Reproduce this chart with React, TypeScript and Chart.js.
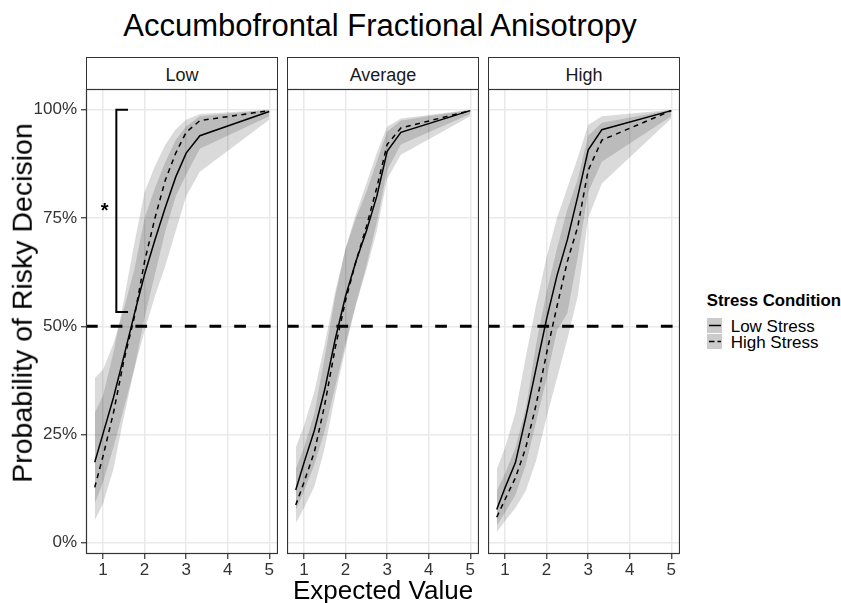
import React, { useEffect, useRef } from "react";
import { Chart, registerables } from "chart.js";
Chart.register(...registerables);

// ---------------- data ----------------
const titleText = "Accumbofrontal Fractional Anisotropy";
const panelNames = ["Low", "Average", "High"];
const seriesNames = ["Low Stress", "High Stress"];
const legendTitle = "Stress Condition";
const xAxisTitle = "Expected Value";
const yAxisTitle = "Probability of Risky Decision";

const evPoints = [0.8, 1.0, 1.25, 1.5, 1.75, 2.0, 2.25, 2.5, 2.75, 3.0, 3.33, 5.0];

// Panel "Low"
const lowFA_lowStress = [0.186, 0.252, 0.335, 0.43, 0.527, 0.62, 0.7, 0.775, 0.845, 0.9, 0.94, 0.996];
const lowFA_lowStress_lo = [0.09, 0.14, 0.22, 0.31, 0.4, 0.49, 0.57, 0.64, 0.72, 0.8, 0.857, 0.977];
const lowFA_lowStress_hi = [0.38, 0.4, 0.46, 0.54, 0.63, 0.75, 0.82, 0.88, 0.93, 0.962, 0.985, 1.0];
const lowFA_highStress = [0.128, 0.2, 0.3, 0.42, 0.52, 0.65, 0.75, 0.838, 0.9, 0.948, 0.975, 0.998];
const lowFA_highStress_lo = [0.052, 0.09, 0.17, 0.29, 0.4, 0.52, 0.62, 0.72, 0.8, 0.85, 0.91, 0.985];
const lowFA_highStress_hi = [0.3, 0.34, 0.44, 0.56, 0.69, 0.81, 0.87, 0.92, 0.955, 0.977, 0.99, 1.0];

// Panel "Average"
const avgFA_lowStress = [0.122, 0.185, 0.26, 0.355, 0.47, 0.57, 0.65, 0.72, 0.8, 0.904, 0.948, 0.998];
const avgFA_lowStress_lo = [0.075, 0.12, 0.18, 0.26, 0.36, 0.46, 0.55, 0.63, 0.72, 0.84, 0.896, 0.985];
const avgFA_lowStress_hi = [0.22, 0.27, 0.35, 0.46, 0.58, 0.68, 0.75, 0.81, 0.88, 0.95, 0.975, 1.0];
const avgFA_highStress = [0.087, 0.14, 0.21, 0.32, 0.45, 0.56, 0.65, 0.73, 0.82, 0.92, 0.958, 0.998];
const avgFA_highStress_lo = [0.045, 0.08, 0.13, 0.22, 0.34, 0.45, 0.55, 0.64, 0.74, 0.86, 0.92, 0.99];
const avgFA_highStress_hi = [0.17, 0.22, 0.3, 0.43, 0.57, 0.68, 0.76, 0.83, 0.9, 0.961, 0.98, 1.0];

// Panel "High"
const highFA_lowStress = [0.077, 0.127, 0.185, 0.29, 0.404, 0.517, 0.617, 0.7, 0.8, 0.907, 0.954, 0.998];
const highFA_lowStress_lo = [0.04, 0.07, 0.11, 0.18, 0.28, 0.38, 0.49, 0.53, 0.66, 0.81, 0.88, 0.985];
const highFA_lowStress_hi = [0.17, 0.22, 0.3, 0.43, 0.55, 0.66, 0.75, 0.82, 0.89, 0.965, 0.985, 1.0];
const highFA_highStress = [0.059, 0.1, 0.15, 0.22, 0.32, 0.438, 0.546, 0.65, 0.73, 0.86, 0.93, 0.998];
const highFA_highStress_lo = [0.025, 0.05, 0.08, 0.12, 0.19, 0.29, 0.38, 0.47, 0.57, 0.75, 0.83, 0.98];
const highFA_highStress_hi = [0.12, 0.16, 0.22, 0.31, 0.46, 0.58, 0.68, 0.77, 0.84, 0.94, 0.97, 1.0];

const xTickValues = [1, 2, 3, 4, 5];
const yTickValues = [0, 0.25, 0.5, 0.75, 1];
const yTickLabels = ["0%", "25%", "50%", "75%", "100%"];
const referenceLevel = 0.5;

// significance bracket in the "Low" panel
const bracketX = [1.6, 1.32, 1.32, 1.6];
const bracketY = [1.0, 1.0, 0.533, 0.533];
const starX = 1.04;
const starY = 0.777;

const panels = [
  { lo: lowFA_lowStress, loLo: lowFA_lowStress_lo, loHi: lowFA_lowStress_hi, hi: lowFA_highStress, hiLo: lowFA_highStress_lo, hiHi: lowFA_highStress_hi },
  { lo: avgFA_lowStress, loLo: avgFA_lowStress_lo, loHi: avgFA_lowStress_hi, hi: avgFA_highStress, hiLo: avgFA_highStress_lo, hiHi: avgFA_highStress_hi },
  { lo: highFA_lowStress, loLo: highFA_lowStress_lo, loHi: highFA_lowStress_hi, hi: highFA_highStress, hiLo: highFA_highStress_lo, hiHi: highFA_highStress_hi },
];

// ---------------- layout / style ----------------
const FONT = "'Liberation Sans', Arial, Helvetica, sans-serif";
const X_MIN = 0.59;
const X_MAX = 5.21;
const Y_MIN = -0.026;
const Y_MAX = 1.048;
const PANEL_LEFTS = [86, 287, 488];
const PANEL_W = 192;
const CANVAS_TOP = 80;
const PLOT_TOP = 89;
const PLOT_BOTTOM = 554;
const X_AXIS_H = 40;
const GRID = "#e9e9e9";
const RIBBON = "rgba(0,0,0,0.145)";
const AXIS_COL = "#333333";
const TICK_SIZE = 17;

const framePlugin = {
  id: "frame",
  afterDatasetsDraw(chart: any) {
    const { ctx, chartArea: a } = chart;
    ctx.save();
    ctx.strokeStyle = AXIS_COL;
    ctx.lineWidth = 1.2;
    ctx.strokeRect(a.left + 0.5, a.top + 0.5, a.right - a.left - 1, a.bottom - a.top - 1);
    ctx.restore();
  },
};

const starPlugin = {
  id: "star",
  afterDatasetsDraw(chart: any) {
    const { ctx, scales } = chart;
    const px = scales.x.getPixelForValue(starX);
    const py = scales.y.getPixelForValue(starY);
    ctx.save();
    ctx.fillStyle = "#000";
    ctx.font = `bold 20px ${FONT}`;
    ctx.textAlign = "center";
    ctx.textBaseline = "alphabetic";
    ctx.fillText("*", px, py + 11);
    ctx.restore();
  },
};

function Panel({ idx }: { idx: number }) {
  const ref = useRef<HTMLCanvasElement>(null);
  const isFirst = idx === 0;
  const yAxisW = isFirst ? PANEL_LEFTS[0] : 0;
  const width = PANEL_W + yAxisW;
  const height = PLOT_BOTTOM - CANVAS_TOP + X_AXIS_H;
  const left = isFirst ? 0 : PANEL_LEFTS[idx];

  useEffect(() => {
    if (!ref.current) return;
    const s = panels[idx];
    const pts = (ys: number[]) => evPoints.map((x, i) => ({ x, y: ys[i] }));
    const datasets: any[] = [
      { label: "lowLo", data: pts(s.loLo), borderWidth: 0, pointRadius: 0, fill: false, order: 10 },
      { label: "lowHi", data: pts(s.loHi), borderWidth: 0, pointRadius: 0, fill: "-1", backgroundColor: RIBBON, order: 10 },
      { label: "hiLo", data: pts(s.hiLo), borderWidth: 0, pointRadius: 0, fill: false, order: 9 },
      { label: "hiHi", data: pts(s.hiHi), borderWidth: 0, pointRadius: 0, fill: "-1", backgroundColor: RIBBON, order: 9 },
      { label: seriesNames[0], data: pts(s.lo), borderColor: "#000", borderWidth: 1.5, pointRadius: 0, fill: false, order: 3 },
      { label: seriesNames[1], data: pts(s.hi), borderColor: "#000", borderWidth: 1.5, borderDash: [5, 4.5], pointRadius: 0, fill: false, order: 2 },
      {
        label: "ref",
        data: [{ x: X_MIN, y: referenceLevel }, { x: X_MAX, y: referenceLevel }],
        borderColor: "#000",
        borderWidth: 3.2,
        borderDash: [11.7, 13],
        pointRadius: 0,
        fill: false,
        order: 0,
      },
    ];
    if (isFirst) {
      datasets.push({
        label: "bracket",
        data: bracketX.map((x, i) => ({ x, y: bracketY[i] })),
        borderColor: "#000",
        borderWidth: 2,
        pointRadius: 0,
        fill: false,
        order: 1,
      });
    }
    const chart = new Chart(ref.current, {
      type: "line",
      data: { datasets },
      plugins: isFirst ? [framePlugin, starPlugin] : [framePlugin],
      options: {
        responsive: false,
        animation: false,
        devicePixelRatio: 1,
        layout: { padding: { top: PLOT_TOP - CANVAS_TOP, left: 0, right: 0, bottom: 0 } },
        plugins: { legend: { display: false }, tooltip: { enabled: false } },
        elements: { line: { tension: 0 } },
        scales: {
          x: {
            type: "linear",
            min: X_MIN,
            max: X_MAX,
            afterBuildTicks: (sc: any) => {
              sc.ticks = xTickValues.map((v) => ({ value: v }));
            },
            afterFit: (sc: any) => {
              sc.height = X_AXIS_H;
              sc.paddingLeft = 0;
              sc.paddingRight = 0;
            },
            ticks: {
              autoSkip: false,
              maxRotation: 0,
              padding: 1,
              color: AXIS_COL,
              font: { size: TICK_SIZE, family: FONT },
              callback: (v: any) => String(v),
            },
            grid: { color: GRID, lineWidth: 1.5, tickColor: AXIS_COL, tickLength: 5, tickWidth: 1.2 },
            border: { display: false },
          },
          y: {
            type: "linear",
            min: Y_MIN,
            max: Y_MAX,
            afterBuildTicks: (sc: any) => {
              sc.ticks = yTickValues.map((v) => ({ value: v }));
            },
            afterFit: (sc: any) => {
              sc.width = yAxisW;
              sc.paddingTop = 0;
              sc.paddingBottom = 0;
            },
            ticks: {
              display: isFirst,
              padding: 4,
              color: AXIS_COL,
              font: { size: TICK_SIZE, family: FONT },
              callback: (v: any) => yTickLabels[yTickValues.indexOf(v)] ?? "",
            },
            grid: {
              color: GRID,
              lineWidth: 1.5,
              drawTicks: isFirst,
              tickColor: AXIS_COL,
              tickLength: 5,
              tickWidth: 1.2,
            },
            border: { display: false },
          },
        },
      } as any,
    });
    return () => chart.destroy();
  }, [idx]);

  return (
    <canvas
      ref={ref}
      width={width}
      height={height}
      style={{ position: "absolute", left, top: CANVAS_TOP, width, height }}
    />
  );
}

function Label(props: {
  text: string;
  x: number;
  baseline: number;
  size: number;
  align?: "left" | "center";
  weight?: number;
  color?: string;
}) {
  const { text, x, baseline, size, align = "left", weight = 400, color = "#000" } = props;
  return (
    <div
      style={{
        position: "absolute",
        left: x,
        top: baseline - 0.8465 * size,
        fontSize: size,
        lineHeight: `${size}px`,
        fontWeight: weight,
        fontFamily: FONT,
        color,
        whiteSpace: "nowrap",
        transform: align === "center" ? "translateX(-50%)" : undefined,
      }}
    >
      {text}
    </div>
  );
}

function LegendKey({ top, dashed }: { top: number; dashed: boolean }) {
  return (
    <svg
      width={15}
      height={15}
      style={{ position: "absolute", left: 706.5, top, display: "block" }}
    >
      <rect x={0} y={0} width={15} height={15} fill="#cbcbcb" />
      <line
        x1={2}
        y1={7.5}
        x2={14}
        y2={7.5}
        stroke="#000"
        strokeWidth={1.5}
        strokeDasharray={dashed ? "5.5 3" : undefined}
      />
    </svg>
  );
}

export default function App() {
  return (
    <div
      style={{
        position: "absolute",
        left: 0,
        top: 0,
        width: 841,
        height: 603,
        background: "#fff",
        overflow: "hidden",
        fontFamily: FONT,
      }}
    >
      <Label text={titleText} x={380} baseline={36} size={31} align="center" />
      {panelNames.map((name, i) => (
        <div
          key={"strip" + i}
          style={{
            position: "absolute",
            left: PANEL_LEFTS[i],
            top: 57,
            width: PANEL_W,
            height: 33,
            boxSizing: "border-box",
            border: `1.2px solid ${AXIS_COL}`,
            background: "#fff",
          }}
        />
      ))}
      {panelNames.map((name, i) => (
        <Label key={"st" + i} text={name} x={PANEL_LEFTS[i] + PANEL_W / 2} baseline={81} size={18} align="center" color="#1a1a1a" />
      ))}
      {panelNames.map((_, i) => (
        <Panel key={"p" + i} idx={i} />
      ))}
      <Label text={xAxisTitle} x={383} baseline={599.3} size={26} align="center" />
      <div
        style={{
          position: "absolute",
          left: 21.8,
          top: 303,
          fontSize: 28.5,
          lineHeight: "28.5px",
          fontFamily: FONT,
          whiteSpace: "nowrap",
          transform: "translate(-50%, -50%) rotate(-90deg)",
        }}
      >
        {yAxisTitle}
      </div>
      <Label text={legendTitle} x={706.7} baseline={307.3} size={16.8} weight={700} />
      <LegendKey top={318.3} dashed={false} />
      <LegendKey top={334.3} dashed={true} />
      <Label text={seriesNames[0]} x={730.7} baseline={332.7} size={17} />
      <Label text={seriesNames[1]} x={730.7} baseline={348.3} size={17} />
    </div>
  );
}
